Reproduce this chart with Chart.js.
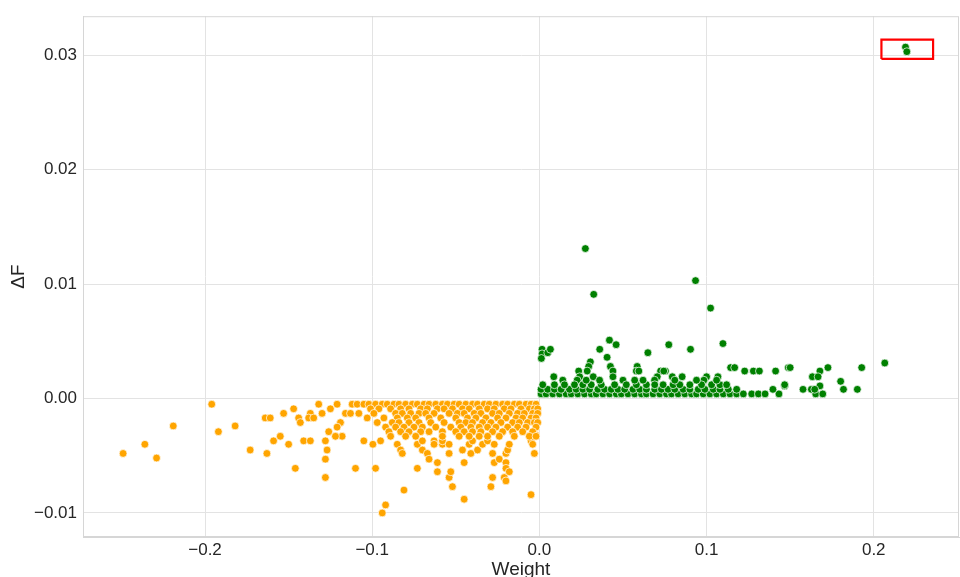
<!DOCTYPE html>
<html>
<head>
<meta charset="utf-8">
<script src="https://cdn.jsdelivr.net/npm/chart.js@4.4.0/dist/chart.umd.min.js"></script>
<style>
  html, body { margin: 0; padding: 0; background: #fff; }
</style>
</head>
<body>
<canvas id="chart" width="960" height="577"></canvas>
<script>
// tick values
var xTicks = [-0.2, -0.1, 0.0, 0.1, 0.2];
var yTicks = [-0.01, 0.00, 0.01, 0.02, 0.03];

// negative weights (orange): loose points
var orangePoints = [
  [-0.196,-0.0005], [-0.219,-0.0024], [-0.236,-0.0040], [-0.249,-0.0048], [-0.229,-0.0052],
  [-0.192,-0.0029], [-0.182,-0.0024], [-0.173,-0.0045], [-0.163,-0.0048], [-0.159,-0.0037],
  [-0.155,-0.0033], [-0.150,-0.0040], [-0.146,-0.0061], [-0.141,-0.0037], [-0.137,-0.0037],
  [-0.128,-0.0037], [-0.127,-0.0045], [-0.128,-0.0053], [-0.128,-0.0069], [-0.119,-0.0021],
  [-0.118,-0.0033], [-0.110,-0.0061], [-0.105,-0.0037], [-0.0996,-0.0040], [-0.098,-0.0061],
  [-0.095,-0.0037], [-0.094,-0.0100], [-0.092,-0.0093], [-0.085,-0.0040], [-0.083,-0.0045],
  [-0.082,-0.0048], [-0.081,-0.0080], [-0.073,-0.0040], [-0.073,-0.0061], [-0.070,-0.0045],
  [-0.070,-0.0037], [-0.067,-0.0048], [-0.066,-0.0053], [-0.063,-0.0037], [-0.063,-0.0040],
  [-0.061,-0.0056], [-0.061,-0.0064], [-0.058,-0.0040], [-0.058,-0.0037], [-0.054,-0.0040],
  [-0.054,-0.0048], [-0.054,-0.0069], [-0.053,-0.0064], [-0.052,-0.0077], [-0.046,-0.0045],
  [-0.045,-0.0056], [-0.045,-0.0088], [-0.042,-0.0040], [-0.041,-0.0048], [-0.040,-0.0037],
  [-0.037,-0.0045], [-0.034,-0.0040], [-0.031,-0.0037], [-0.028,-0.0048], [-0.027,-0.0040],
  [-0.027,-0.0056], [-0.028,-0.0069], [-0.029,-0.0077], [-0.024,-0.0053], [-0.021,-0.0069],
  [-0.020,-0.0072], [-0.020,-0.0056], [-0.020,-0.0061], [-0.020,-0.0048], [-0.019,-0.0045],
  [-0.018,-0.0040], [-0.018,-0.0064], [-0.005,-0.0084], [-0.005,-0.0037], [-0.004,-0.0040],
  [-0.003,-0.0048], [-0.002,-0.0032]
];

// orange dense band, one row per y level
var orangeBandY = [-0.0005, -0.0009, -0.0013, -0.0017, -0.0021, -0.0025, -0.0029, -0.0033];
var orangeBandX = [
  [-0.132,-0.121,-0.112,-0.109,-0.105,-0.102,-0.098,-0.094,-0.091,-0.087,-0.084,-0.080,-0.076,-0.073,-0.069,-0.066,-0.062,-0.058,-0.055,-0.051,-0.048,-0.044,-0.040,-0.037,-0.033,-0.030,-0.026,-0.022,-0.019,-0.015,-0.012,-0.008,-0.005,-0.002],
  [-0.147,-0.125,-0.101,-0.096,-0.089,-0.083,-0.078,-0.071,-0.067,-0.061,-0.057,-0.052,-0.046,-0.042,-0.036,-0.031,-0.027,-0.021,-0.017,-0.011,-0.006,-0.003,-0.001],
  [-0.153,-0.137,-0.130,-0.116,-0.113,-0.108,-0.099,-0.086,-0.082,-0.077,-0.072,-0.068,-0.063,-0.054,-0.049,-0.045,-0.039,-0.035,-0.028,-0.024,-0.018,-0.013,-0.009,-0.004,-0.001],
  [-0.164,-0.161,-0.144,-0.138,-0.135,-0.103,-0.093,-0.085,-0.079,-0.074,-0.066,-0.059,-0.050,-0.043,-0.038,-0.032,-0.025,-0.020,-0.014,-0.010,-0.005,-0.002],
  [-0.143,-0.119,-0.097,-0.088,-0.084,-0.078,-0.072,-0.065,-0.057,-0.048,-0.044,-0.040,-0.034,-0.029,-0.023,-0.016,-0.012,-0.007,-0.003,-0.001],
  [-0.121,-0.092,-0.086,-0.081,-0.075,-0.070,-0.062,-0.053,-0.047,-0.041,-0.036,-0.031,-0.026,-0.019,-0.013,-0.008,-0.002],
  [-0.126,-0.090,-0.083,-0.078,-0.071,-0.066,-0.058,-0.050,-0.045,-0.040,-0.035,-0.028,-0.022,-0.016,-0.010,-0.004],
  [-0.122,-0.089,-0.080,-0.074,-0.058,-0.048,-0.042,-0.036,-0.031,-0.024,-0.015,-0.006,-0.002]
];

// positive weights (green): loose points
var greenPoints = [
  [0.0275,0.0131], [0.0325,0.0091], [0.0419,0.0051], [0.0459,0.0047], [0.0361,0.0043],
  [0.0405,0.0036], [0.0425,0.0028], [0.044,0.0024], [0.044,0.0019], [0.0305,0.0032],
  [0.0295,0.0028], [0.0286,0.0024], [0.0322,0.0019], [0.0235,0.0024], [0.0241,0.0019],
  [0.0226,0.0016], [0.0016,0.0043], [0.0016,0.0039], [0.0012,0.0035], [0.005,0.0040],
  [0.0066,0.0043], [0.0086,0.0019], [0.014,0.0016], [0.0649,0.0040], [0.0774,0.0047],
  [0.0585,0.0028], [0.058,0.0024], [0.0595,0.0024], [0.050,0.0016], [0.0725,0.0024],
  [0.0705,0.0019], [0.0689,0.0016], [0.0754,0.0024], [0.0934,0.0103], [0.1024,0.0079],
  [0.0904,0.0043], [0.1098,0.0048], [0.1144,0.0027], [0.1168,0.0027], [0.1228,0.0024],
  [0.128,0.0024], [0.1316,0.0024], [0.1413,0.0024], [0.1489,0.0027], [0.1068,0.0019],
  [0.100,0.0019], [0.0984,0.0016], [0.0795,0.0019], [0.0854,0.0019], [0.0744,0.0024],
  [0.1467,0.0011], [0.150,0.0027], [0.2066,0.0031], [0.1928,0.0027], [0.1726,0.0027],
  [0.1678,0.0024], [0.1633,0.0019], [0.1667,0.0019], [0.1802,0.0015], [0.1678,0.0011],
  [0.219,0.0307], [0.2198,0.0303]
];

// green dense band
var greenBandY = [0.0004, 0.0008, 0.0012, 0.0016];
var greenBandX = [
  [0.001,0.004,0.008,0.012,0.016,0.019,0.023,0.027,0.031,0.034,0.038,0.042,0.046,0.049,0.053,0.057,0.061,0.064,0.068,0.072,0.076,0.079,0.083,0.087,0.091,0.094,0.098,0.102,0.106,0.110,0.114,0.118,0.122,0.127,0.131,0.135,0.1433,0.1653,0.1695],
  [0.001,0.005,0.009,0.013,0.018,0.022,0.026,0.030,0.035,0.039,0.043,0.047,0.051,0.056,0.060,0.064,0.069,0.073,0.077,0.081,0.086,0.090,0.095,0.099,0.104,0.108,0.113,0.118,0.1397,0.1577,0.1627,0.1647,0.1819,0.1902],
  [0.002,0.009,0.015,0.021,0.026,0.031,0.037,0.045,0.052,0.058,0.064,0.069,0.074,0.080,0.084,0.090,0.097,0.103,0.108,0.112,0.1467],
  [0.028,0.036,0.057,0.062,0.081,0.094,0.106]
];

// highlight box round the outliers
var boxX = [0.2046, 0.2355];
var boxY = [0.02967, 0.03136];

function build(points, bandX, bandY) {
  var out = points.map(function(p) { return {x: p[0], y: p[1]}; });
  bandX.forEach(function(row, i) {
    row.forEach(function(x) { out.push({x: x, y: bandY[i]}); });
  });
  return out;
}

function fmt(v, d) {
  var s = Math.abs(v).toFixed(d);
  return (v < -1e-9 ? '\u2212' : '') + s;
}

var frame = {
  id: 'frame',
  beforeDatasetsDraw: function(chart) {
    var a = chart.chartArea, c = chart.ctx;
    c.save();
    c.strokeStyle = '#d6d6d6';
    c.lineWidth = 1;
    c.strokeRect(a.left + 0.5, a.top + 0.5, a.right - a.left - 1, a.bottom - a.top - 1);
    c.restore();
  }
};

var textColor = '#262626';
var gridColor = '#e3e3e3';

new Chart(document.getElementById('chart'), {
  type: 'scatter',
  data: {
    datasets: [
      {
        data: build(orangePoints, orangeBandX, orangeBandY),
        backgroundColor: '#ffa500',
        borderColor: '#ffffff',
        borderWidth: 0.7,
        pointRadius: 3.9
      },
      {
        data: build(greenPoints, greenBandX, greenBandY),
        backgroundColor: '#008000',
        borderColor: '#ffffff',
        borderWidth: 0.7,
        pointRadius: 3.9
      },
      {
        type: 'line',
        data: [
          {x: boxX[0], y: boxY[0]}, {x: boxX[1], y: boxY[0]},
          {x: boxX[1], y: boxY[1]}, {x: boxX[0], y: boxY[1]},
          {x: boxX[0], y: boxY[0]}
        ],
        borderColor: '#ff0000',
        borderWidth: 2.2,
        pointRadius: 0,
        fill: false,
        tension: 0
      }
    ]
  },
  options: {
    responsive: false,
    animation: false,
    layout: { autoPadding: false, padding: { top: 16, right: 1, left: 0, bottom: 0 } },
    plugins: {
      legend: { display: false },
      tooltip: { enabled: false }
    },
    scales: {
      x: {
        type: 'linear',
        min: -0.273,
        max: 0.251,
        afterBuildTicks: function(s) { s.ticks = xTicks.map(function(v) { return {value: v}; }); },
        afterFit: function(s) { s.height = 40; },
        grid: { color: gridColor, drawTicks: false },
        border: { color: '#d6d6d6' },
        ticks: {
          color: textColor,
          padding: 3,
          maxRotation: 0,
          font: { family: 'Liberation Sans, Arial, sans-serif', size: 17 },
          callback: function(v) { return fmt(v, 1); }
        },
        title: {
          display: true,
          text: 'Weight',
          color: textColor,
          padding: { top: 0, bottom: -2 },
          font: { family: 'Liberation Sans, Arial, sans-serif', size: 19, lineHeight: 1 }
        }
      },
      y: {
        type: 'linear',
        min: -0.0121,
        max: 0.0334,
        afterBuildTicks: function(s) { s.ticks = yTicks.map(function(v) { return {value: v}; }); },
        afterFit: function(s) { s.width = 83; },
        grid: { color: gridColor, drawTicks: false },
        border: { color: '#d6d6d6' },
        ticks: {
          color: textColor,
          padding: 6,
          font: { family: 'Liberation Sans, Arial, sans-serif', size: 17 },
          callback: function(v) { return fmt(v, 2); }
        },
        title: {
          display: true,
          text: '\u0394F',
          color: textColor,
          padding: { top: 7, bottom: 0 },
          font: { family: 'Liberation Sans, Arial, sans-serif', size: 19 }
        }
      }
    }
  },
  plugins: [frame]
});
</script>
</body>
</html>
